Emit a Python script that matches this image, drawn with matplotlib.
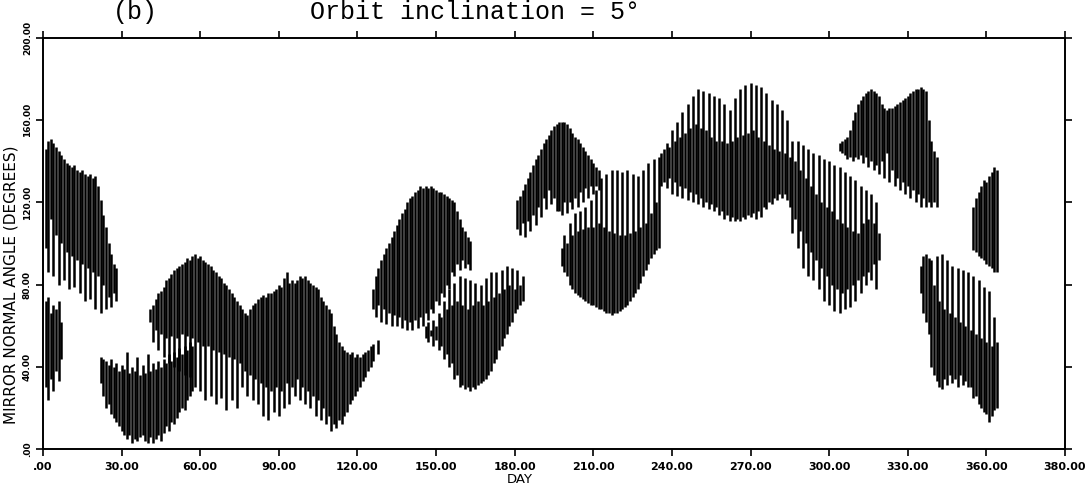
import numpy as np
import matplotlib
matplotlib.use('Agg')
from matplotlib import pyplot as plt

# daily min / max of mirror normal angle, one cluster of consecutive days each
upper_jan_start = 1
upper_jan_lo = [98, 86, 112, 84, 104, 80, 100, 82, 96, 78, 94, 79, 92, 76, 90, 72, 88, 73, 86, 68,
                84, 66, 80, 68, 74, 69, 76, 72]
upper_jan_hi = [146, 150, 151, 149, 147, 145, 143, 141, 139, 138, 137, 138, 136, 135, 136, 134, 133,
                134, 132, 133, 128, 121, 114, 108, 100, 95, 90, 88]

lower_jan_start = 1
lower_jan_lo = [30, 24, 34, 28, 38, 33, 44]
lower_jan_hi = [72, 74, 66, 70, 68, 72, 62]

low_feb_start = 22
low_feb_lo = [32, 26, 20, 22, 17, 15, 13, 11, 9, 7, 5, 7, 3, 5, 4, 6, 7, 4, 3, 6, 3, 5, 7, 4, 8,
              11, 9, 13, 12, 15, 18, 20, 19, 24, 26, 28]
low_feb_hi = [45, 44, 43, 41, 44, 40, 42, 38, 41, 39, 47, 37, 40, 38, 45, 36, 41, 37, 46, 38, 42,
              39, 43, 40, 44, 42, 46, 43, 47, 45, 49, 46, 50, 48, 52, 50]

humps_start = 41
humps_lo = [62, 52, 58, 48, 56, 45, 54, 42, 55, 40, 54, 38, 56, 36, 55, 35, 54, 30, 52, 28, 50, 24,
            50, 26, 48, 22, 47, 25, 46, 19, 45, 24, 44, 20, 42, 30, 38, 26, 36, 24, 34, 22, 32, 16,
            30, 14, 28, 18, 30, 16, 28, 20, 32, 22, 30, 26, 34, 24, 30, 22, 28, 20, 26, 16, 24, 14,
            20, 12, 16, 9, 12, 10, 14, 12, 16, 18, 22, 24, 26, 28, 30, 33, 35, 38, 40, 43]
humps_hi = [68, 70, 73, 76, 77, 79, 82, 83, 85, 87, 88, 89, 90, 91, 93, 92, 94, 95, 93, 94, 92, 91,
            90, 89, 87, 86, 84, 83, 81, 80, 78, 76, 74, 72, 70, 68, 66, 65, 68, 70, 71, 73, 74, 75,
            74, 76, 76, 77, 78, 80, 79, 83, 86, 81, 82, 81, 82, 84, 83, 84, 82, 81, 80, 79, 78, 74,
            72, 70, 68, 66, 60, 56, 52, 50, 48, 47, 46, 47, 45, 46, 45, 46, 47, 48, 50, 51]

blip_start = 128
blip_lo = [46]
blip_hi = [53]

rise_may_start = 126
rise_may_lo = [68, 64, 70, 62, 68, 61, 66, 60, 65, 60, 64, 59, 63, 58, 62, 58, 63, 59, 64, 60, 66,
               63, 68, 66, 72, 70, 76, 74, 80, 78, 86, 84, 90, 87, 92, 88, 90, 87]
rise_may_hi = [78, 84, 88, 92, 95, 98, 100, 103, 106, 109, 112, 115, 117, 120, 122, 123, 125, 126,
               128, 127, 128, 127, 128, 127, 126, 125, 125, 124, 123, 122, 121, 120, 116, 112, 108,
               106, 103, 101]

dip_jun_start = 146
dip_jun_lo = [54, 52, 55, 50, 53, 48, 50, 44, 46, 40, 42, 34, 36, 30, 31, 29, 30, 28, 30, 29, 31,
              32, 33, 34, 36, 38, 42, 44, 48, 50, 54, 56, 60, 62, 66, 68, 70, 72]
dip_jun_hi = [60, 62, 58, 63, 60, 66, 64, 72, 68, 78, 70, 81, 72, 84, 70, 83, 68, 82, 70, 81, 72,
              80, 70, 83, 72, 86, 74, 86, 76, 87, 78, 89, 80, 88, 78, 87, 80, 84]

peak_jul_start = 181
peak_jul_lo = [107, 104, 110, 103, 111, 106, 114, 109, 118, 113, 122, 117, 126, 119, 122, 116, 116,
               114, 120, 115, 120, 117, 122, 118, 125, 120, 127, 122, 128, 124, 128, 126]
peak_jul_hi = [121, 123, 126, 129, 132, 135, 138, 141, 143, 146, 149, 151, 153, 155, 157, 158, 159,
               159, 159, 158, 156, 154, 152, 151, 149, 147, 145, 143, 141, 139, 137, 136]

dip_aug_start = 198
dip_aug_lo = [89, 86, 84, 80, 78, 76, 75, 74, 73, 72, 71, 70, 70, 69, 68, 68, 67, 66, 66, 65, 66,
              66, 67, 68, 69, 70, 72, 74, 76, 78, 81, 84, 87, 90, 93, 95, 97, 98]
dip_aug_hi = [98, 104, 100, 110, 104, 115, 106, 116, 107, 118, 108, 121, 108, 126, 110, 132, 108,
              134, 106, 136, 105, 136, 104, 135, 104, 136, 105, 134, 106, 133, 108, 136, 110, 139,
              115, 141, 120, 142]

band_sep_start = 236
band_sep_lo = [128, 130, 127, 132, 124, 130, 123, 128, 122, 127, 121, 125, 120, 124, 119, 122, 118,
               120, 117, 119, 116, 118, 114, 116, 112, 114, 111, 113, 111, 112, 111, 113, 112, 114,
               113, 115, 112, 116, 113, 118, 117, 120, 119, 122, 121, 124, 122, 124, 121, 118]
band_sep_hi = [144, 146, 149, 147, 155, 150, 159, 152, 164, 154, 168, 156, 172, 158, 175, 156, 174,
               155, 173, 152, 172, 150, 171, 150, 168, 149, 165, 150, 171, 152, 175, 153, 177, 154,
               178, 155, 177, 152, 176, 150, 173, 148, 170, 146, 168, 145, 165, 144, 160, 142]

fall_oct_start = 286
fall_oct_lo = [105, 112, 98, 106, 88, 100, 84, 96, 82, 92, 78, 88, 72, 84, 70, 80, 67, 78, 66, 76,
               68, 78, 69, 80, 72, 82, 76, 84, 80, 86, 82, 90, 78, 92]
fall_oct_hi = [150, 140, 150, 136, 148, 132, 146, 128, 144, 124, 143, 120, 141, 118, 140, 116, 138,
               112, 137, 110, 135, 108, 133, 106, 131, 105, 128, 110, 126, 112, 124, 110, 120, 105]

high_nov_start = 304
high_nov_lo = [145, 144, 143, 141, 142, 140, 142, 141, 143, 139, 142, 137, 140, 136, 138, 134, 140,
               132, 144, 130, 136, 128, 132, 126, 130, 124, 128, 122, 126, 120, 124, 118, 122, 118,
               120, 118, 120, 118]
high_nov_hi = [149, 150, 151, 152, 155, 160, 164, 168, 170, 172, 173, 174, 175, 174, 173, 172, 168,
               166, 165, 166, 166, 167, 168, 169, 170, 171, 172, 173, 174, 175, 175, 176, 175, 174,
               160, 150, 145, 142]

low_dec_start = 335
low_dec_lo = [76, 66, 62, 56, 40, 36, 33, 30, 29, 34, 31, 36, 32, 34, 30, 36, 31, 33, 30, 30, 25,
              26, 22, 20, 18, 17, 13, 16, 19, 20]
low_dec_hi = [89, 94, 95, 93, 92, 80, 94, 72, 95, 68, 92, 66, 89, 64, 88, 62, 87, 60, 86, 58, 84,
              56, 82, 54, 79, 52, 77, 50, 64, 52]

top_dec_start = 355
top_dec_lo = [97, 96, 94, 93, 92, 90, 89, 88, 86, 86]
top_dec_hi = [118, 122, 125, 128, 131, 130, 133, 135, 137, 136]

xtick_vals = list(range(0, 391, 30))
xtick_labels = ['.00', '30.00', '60.00', '90.00', '120.00', '150.00', '180.00', '210.00',
                '240.00', '270.00', '300.00', '330.00', '360.00', '380.00']
ytick_vals = [0, 40, 80, 120, 160, 200]
ytick_labels = ['.00', '40.00', '80.00', '120.00', '160.00', '200.00']

clusters = [
    (upper_jan_start, upper_jan_lo, upper_jan_hi),
    (lower_jan_start, lower_jan_lo, lower_jan_hi),
    (low_feb_start, low_feb_lo, low_feb_hi),
    (humps_start, humps_lo, humps_hi),
    (blip_start, blip_lo, blip_hi),
    (rise_may_start, rise_may_lo, rise_may_hi),
    (dip_jun_start, dip_jun_lo, dip_jun_hi),
    (peak_jul_start, peak_jul_lo, peak_jul_hi),
    (dip_aug_start, dip_aug_lo, dip_aug_hi),
    (band_sep_start, band_sep_lo, band_sep_hi),
    (fall_oct_start, fall_oct_lo, fall_oct_hi),
    (high_nov_start, high_nov_lo, high_nov_hi),
    (low_dec_start, low_dec_lo, low_dec_hi),
    (top_dec_start, top_dec_lo, top_dec_hi),
]

W, H = 1092, 488
fig = plt.figure(figsize=(W / 100, H / 100), dpi=100)
ax = fig.add_axes([43 / W, 1 - 449 / H, 1022 / W, 411 / H])

for start, lo, hi in clusters:
    days = np.arange(start, start + len(lo))
    ax.vlines(days, lo, hi, color='black', linewidth=1.8)

ax.set_xlim(0, 390)
ax.set_ylim(0, 200)
ax.set_xticks(xtick_vals)
ax.set_xticklabels(xtick_labels, fontsize=8, fontweight='bold')
ax.set_yticks(ytick_vals)
ax.set_yticklabels(ytick_labels, fontsize=6.5, fontweight='bold', rotation=90, va='center')
ax.tick_params(direction='out', length=5, width=1.2, top=True, right=True,
               labeltop=False, labelright=False)
ax.tick_params(axis='x', pad=4)
ax.tick_params(axis='y', pad=3)
for s in ax.spines.values():
    s.set_linewidth(1.4)

ax.set_xlabel('DAY', fontsize=9.5, labelpad=0)
ax.xaxis.set_label_coords((520 - 43) / 1022, -0.058)
ax.set_ylabel('MIRROR NORMAL ANGLE (DEGREES)', fontsize=11)
ax.yaxis.set_label_coords(-0.024, 0.40)

fig.text(113 / W, 1 - 19 / H, '(b)', family='Liberation Mono', fontsize=18, va='baseline')
fig.text(310 / W, 1 - 19 / H, 'Orbit inclination = 5°', family='Liberation Mono',
         fontsize=18, va='baseline')

plt.savefig('out.png', dpi=100)
